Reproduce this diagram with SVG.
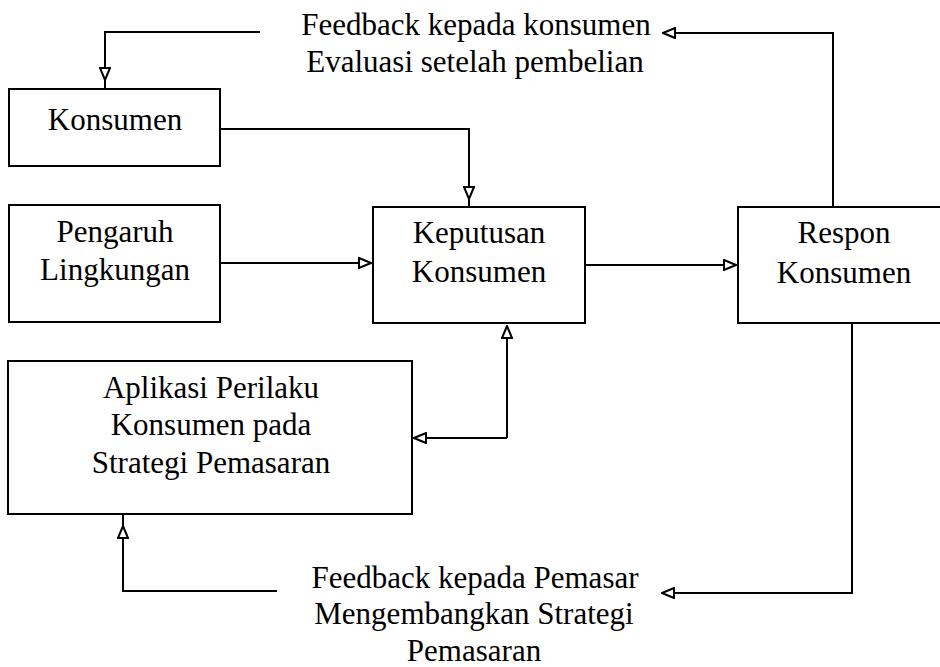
<svg xmlns="http://www.w3.org/2000/svg" width="940" height="667" viewBox="0 0 940 667">
<style>
.box{fill:#fff;stroke:#000;stroke-width:2}
.t{font-family:"Liberation Serif","Times New Roman",serif;font-size:31px;fill:#000;text-anchor:middle}
.c{fill:none;stroke:#000;stroke-width:2}
</style>
<defs>
<marker id="ah" viewBox="0 0 14 12" markerWidth="14" markerHeight="12" refX="13" refY="6" orient="auto" markerUnits="userSpaceOnUse">
<path d="M1,1 L13,6 L1,11 Z" fill="#fff" stroke="#000" stroke-width="2"/>
</marker>
</defs>
<rect width="940" height="667" fill="#fff"/>
<g id="connectors">
<path class="c" d="M260,32 L105,32 L105,80" marker-end="url(#ah)"/>
<path class="c" d="M105,78 L105,88"/>
<path class="c" d="M833,207 L833,33 L663,33" marker-end="url(#ah)"/>
<path class="c" d="M220,129 L469,129 L469,199" marker-end="url(#ah)"/>
<path class="c" d="M469,197 L469,207"/>
<path class="c" d="M220,263 L371,263" marker-end="url(#ah)"/>
<path class="c" d="M585,265 L736,265" marker-end="url(#ah)"/>
<path class="c" d="M507,438 L507,326" marker-end="url(#ah)"/>
<path class="c" d="M507,438 L414,438" marker-end="url(#ah)"/>
<path class="c" d="M852,323 L852,593 L662,593" marker-end="url(#ah)"/>
<path class="c" d="M277,591 L123,591 L123,526" marker-end="url(#ah)"/>
<path class="c" d="M123,528 L123,515"/>
</g>
<g id="feedback-konsumen">
<text class="t" x="476" y="35">Feedback kepada konsumen</text>
<text class="t" x="475" y="72">Evaluasi setelah pembelian</text>
</g>
<g id="konsumen">
<rect class="box" x="9" y="89" width="211" height="77"/>
<text class="t" x="115" y="130">Konsumen</text>
</g>
<g id="pengaruh">
<rect class="box" x="9" y="205" width="211" height="117"/>
<text class="t" x="115" y="242">Pengaruh</text>
<text class="t" x="115" y="280">Lingkungan</text>
</g>
<g id="keputusan">
<rect class="box" x="373" y="207" width="212" height="116"/>
<text class="t" x="479" y="243">Keputusan</text>
<text class="t" x="479" y="282">Konsumen</text>
</g>
<g id="respon">
<rect class="box" x="738" y="207" width="212" height="116"/>
<text class="t" x="844" y="243">Respon</text>
<text class="t" x="844" y="283">Konsumen</text>
</g>
<g id="aplikasi">
<rect class="box" x="8" y="361" width="404" height="153"/>
<text class="t" x="211" y="398">Aplikasi Perilaku</text>
<text class="t" x="211" y="435">Konsumen pada</text>
<text class="t" x="211" y="473">Strategi Pemasaran</text>
</g>
<g id="feedback-pemasar">
<text class="t" x="475" y="588">Feedback kepada Pemasar</text>
<text class="t" x="474" y="624">Mengembangkan Strategi</text>
<text class="t" x="474" y="661">Pemasaran</text>
</g>
</svg>
